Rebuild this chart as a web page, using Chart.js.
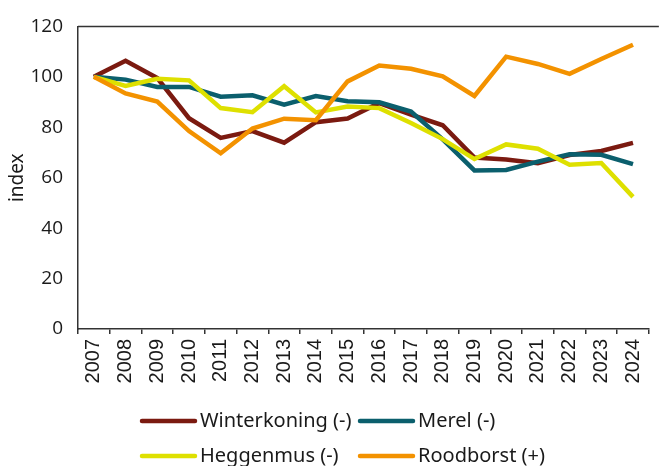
<!DOCTYPE html>
<html>
<head>
<meta charset="utf-8">
<script src="https://cdn.jsdelivr.net/npm/chart.js@4"></script>
<style>
  html, body { margin: 0; padding: 0; background: #fff; }
  #wrap { width: 662px; height: 466px; position: relative; }
</style>
</head>
<body>
<div id="wrap"><canvas id="c" width="662" height="466"></canvas></div>
<script>
const years = ['2007','2008','2009','2010','2011','2012','2013','2014','2015','2016','2017','2018','2019','2020','2021','2022','2023','2024'];
const winterkoning = [100, 106.4, 99.5, 83.6, 75.8, 78.5, 73.9, 82, 83.5, 89.6, 85, 80.8, 68, 67.2, 65.7, 69, 70.6, 73.8];
const merel        = [100, 98.9, 96, 96, 92.1, 92.7, 89, 92.4, 90.3, 89.9, 86.2, 75.2, 62.9, 63.1, 66.4, 69.3, 69.1, 65.4];
const heggenmus    = [100, 96.4, 99.2, 98.6, 87.6, 86, 96.3, 85.9, 88.2, 87.6, 81.7, 75.3, 67.4, 73.2, 71.5, 65.1, 65.8, 52.4];
const roodborst    = [100, 93.4, 90.2, 78.5, 69.7, 79.5, 83.4, 82.8, 98.2, 104.5, 103.2, 100.2, 92.4, 108, 105.1, 101.2, 107.1, 112.7];
const seriesNames  = ['Winterkoning (-)', 'Merel (-)', 'Heggenmus (-)', 'Roodborst (+)'];
const seriesColors = ['#7B1A10', '#0B5F6D', '#DEE000', '#F39200'];
const yTicks = [0, 20, 40, 60, 80, 100, 120];

const seriesData = [winterkoning, merel, heggenmus, roodborst];

const topBorder = {
  id: 'topBorder',
  afterDatasetsDraw(chart) {
    const {ctx, chartArea} = chart;
    ctx.save();
    ctx.strokeStyle = '#333';
    ctx.lineWidth = 1.5;
    ctx.beginPath();
    ctx.moveTo(chartArea.left, chartArea.top);
    ctx.lineTo(chartArea.right + 10, chartArea.top);
    ctx.stroke();
    ctx.restore();
  }
};

const gridLegend = {
  id: 'gridLegend',
  afterDraw(chart) {
    const {ctx} = chart;
    const cols = [142, 360];
    const rows = [421, 456];
    ctx.save();
    ctx.font = '20px "Noto Sans", "Open Sans", sans-serif';
    ctx.textBaseline = 'middle';
    ctx.textAlign = 'left';
    chart.data.datasets.forEach((ds, i) => {
      const x = cols[i % 2];
      const y = rows[Math.floor(i / 2)];
      ctx.strokeStyle = ds.borderColor;
      ctx.lineWidth = 4.5;
      ctx.lineCap = 'round';
      ctx.beginPath();
      ctx.moveTo(x, y);
      ctx.lineTo(x + 53, y);
      ctx.stroke();
      ctx.fillStyle = '#1a1a1a';
      ctx.fillText(ds.label, x + 58, y);
    });
    ctx.restore();
  }
};

new Chart(document.getElementById('c'), {
  type: 'line',
  data: {
    labels: years,
    datasets: seriesData.map((d, i) => ({
      label: seriesNames[i],
      data: d,
      borderColor: seriesColors[i],
      backgroundColor: seriesColors[i],
      borderWidth: 4.5,
      pointRadius: 0,
      tension: 0,
      fill: false,
      order: 4 - i
    }))
  },
  options: {
    responsive: false,
    animation: false,
    devicePixelRatio: 1,
    layout: { padding: { left: 0, right: -4, top: 22, bottom: 67 } },
    plugins: {
      legend: { display: false },
      tooltip: { enabled: false }
    },
    scales: {
      x: {
        type: 'category',
        offset: true,
        grid: { offset: true, drawOnChartArea: false, drawTicks: true, tickLength: 5, color: '#333', lineWidth: 1.5 },
        border: { display: true, color: '#333', width: 1.5 },
        ticks: {
          autoSkip: false, minRotation: 90, maxRotation: 90, padding: 5,
          color: '#1a1a1a',
          font: { family: '"Liberation Sans", Arial, sans-serif', size: 20 }
        },
        afterFit: s => { s.height = 70; }
      },
      y: {
        min: 0, max: 120,
        afterBuildTicks: s => { s.ticks = yTicks.map(v => ({ value: v })); },
        grid: { display: false, drawTicks: false },
        border: { display: true, color: '#333', width: 1.5 },
        ticks: {
          padding: 15,
          color: '#1a1a1a',
          font: { family: '"Open Sans", "Noto Sans", sans-serif', size: 19 }
        },
        title: {
          display: true, text: 'index', color: '#1a1a1a',
          font: { family: '"Noto Sans", "Open Sans", sans-serif', size: 19 },
          padding: { top: 6, bottom: 0 }
        },
        afterFit: s => { s.width = 78; }
      }
    }
  },
  plugins: [topBorder, gridLegend]
});
</script>
</body>
</html>
